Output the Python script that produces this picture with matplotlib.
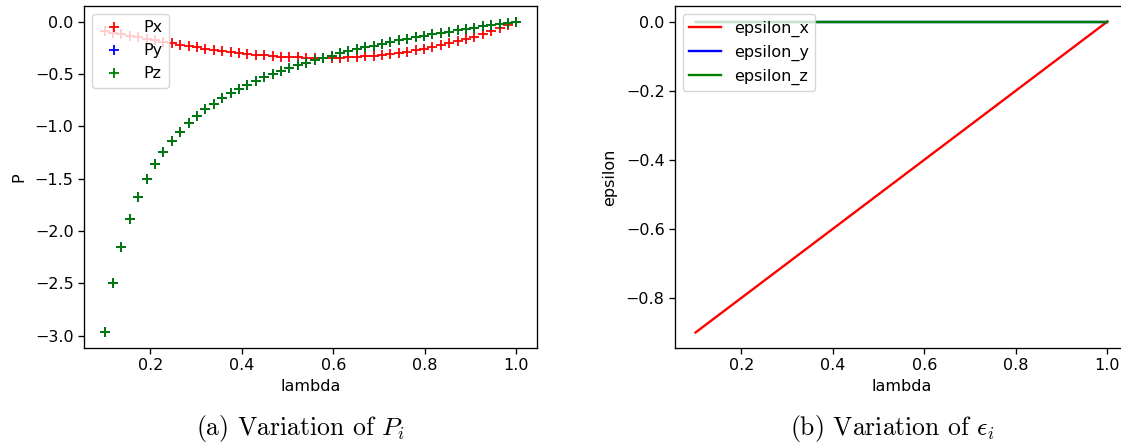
import matplotlib
matplotlib.use("Agg")
import matplotlib.pyplot as plt

plt.rcParams['mathtext.fontset'] = 'cm'
plt.rcParams['font.size'] = 11.5
plt.rcParams['axes.linewidth'] = 0.95
plt.rcParams['xtick.major.width'] = 0.95
plt.rcParams['ytick.major.width'] = 0.95
plt.rcParams['xtick.major.size'] = 4.0
plt.rcParams['ytick.major.size'] = 4.0
plt.rcParams['lines.linewidth'] = 1.7

lam = [0.1, 0.11837, 0.13673, 0.1551, 0.17347, 0.19184, 0.2102, 0.22857, 0.24694, 0.26531,
       0.28367, 0.30204, 0.32041, 0.33878, 0.35714, 0.37551, 0.39388, 0.41224, 0.43061, 0.44898,
       0.46735, 0.48571, 0.50408, 0.52245, 0.54082, 0.55918, 0.57755, 0.59592, 0.61429, 0.63265,
       0.65102, 0.66939, 0.68776, 0.70612, 0.72449, 0.74286, 0.76122, 0.77959, 0.79796, 0.81633,
       0.83469, 0.85306, 0.87143, 0.8898, 0.90816, 0.92653, 0.9449, 0.96327, 0.98163, 1.0]

Px = [-0.089, -0.105, -0.121, -0.136, -0.151, -0.166, -0.181, -0.195, -0.209, -0.222,
      -0.235, -0.247, -0.259, -0.270, -0.280, -0.290, -0.299, -0.308, -0.316, -0.323,
      -0.329, -0.334, -0.338, -0.342, -0.344, -0.346, -0.346, -0.346, -0.344, -0.341,
      -0.338, -0.333, -0.326, -0.319, -0.310, -0.300, -0.288, -0.275, -0.261, -0.245,
      -0.228, -0.209, -0.189, -0.167, -0.143, -0.118, -0.091, -0.063, -0.032, 0.0]

Pz = [-2.970, -2.499, -2.153, -1.888, -1.677, -1.506, -1.364, -1.244, -1.141, -1.051,
      -0.972, -0.903, -0.840, -0.784, -0.733, -0.686, -0.644, -0.604, -0.568, -0.533,
      -0.502, -0.472, -0.444, -0.417, -0.392, -0.369, -0.346, -0.325, -0.304, -0.284,
      -0.266, -0.247, -0.230, -0.213, -0.197, -0.181, -0.166, -0.151, -0.137, -0.123,
      -0.109, -0.096, -0.083, -0.070, -0.058, -0.046, -0.034, -0.022, -0.011, 0.0]
Py = list(Pz)

eps_lam = [0.1, 1.0]
eps_x = [-0.9, 0.0]
eps_y = [0.0, 0.0]
eps_z = [0.0, 0.0]

fig = plt.figure(figsize=(11.21, 4.44), dpi=100)
W, H = 1121, 444
ax1 = fig.add_axes([84 / W, 1 - 348 / H, (537 - 84) / W, (348 - 6) / H])
ax2 = fig.add_axes([675 / W, 1 - 348 / H, (1128 - 675) / W, (348 - 6) / H])

ms, mew = 7.5, 1.3
ax1.plot(lam, Px, '+', color='red', label='Px', markersize=ms, markeredgewidth=mew)
ax1.plot(lam, Py, '+', color='blue', label='Py', markersize=ms, markeredgewidth=mew)
ax1.plot(lam, Pz, '+', color='green', label='Pz', markersize=ms, markeredgewidth=mew)
ax1.set_xlabel('lambda')
ax1.set_ylabel('P', labelpad=6)
ax1.legend(loc='upper left')

ax2.plot(eps_lam, eps_x, color='red', label='epsilon_x')
ax2.plot(eps_lam, eps_y, color='blue', label='epsilon_y')
ax2.plot(eps_lam, eps_z, color='green', label='epsilon_z')
ax2.set_xlabel('lambda')
ax2.set_ylabel('epsilon', labelpad=6)
ax2.legend(loc='upper left')

fig.text(301 / W, 1 - 428 / H, r'(a) Variation of $P_i$', ha='center', va='center',
         fontsize=18.5, family='cmr10')
fig.text(892 / W, 1 - 428 / H, r'(b) Variation of $\epsilon_i$', ha='center', va='center',
         fontsize=18.5, family='cmr10')

fig.savefig('out.png', dpi=100)
